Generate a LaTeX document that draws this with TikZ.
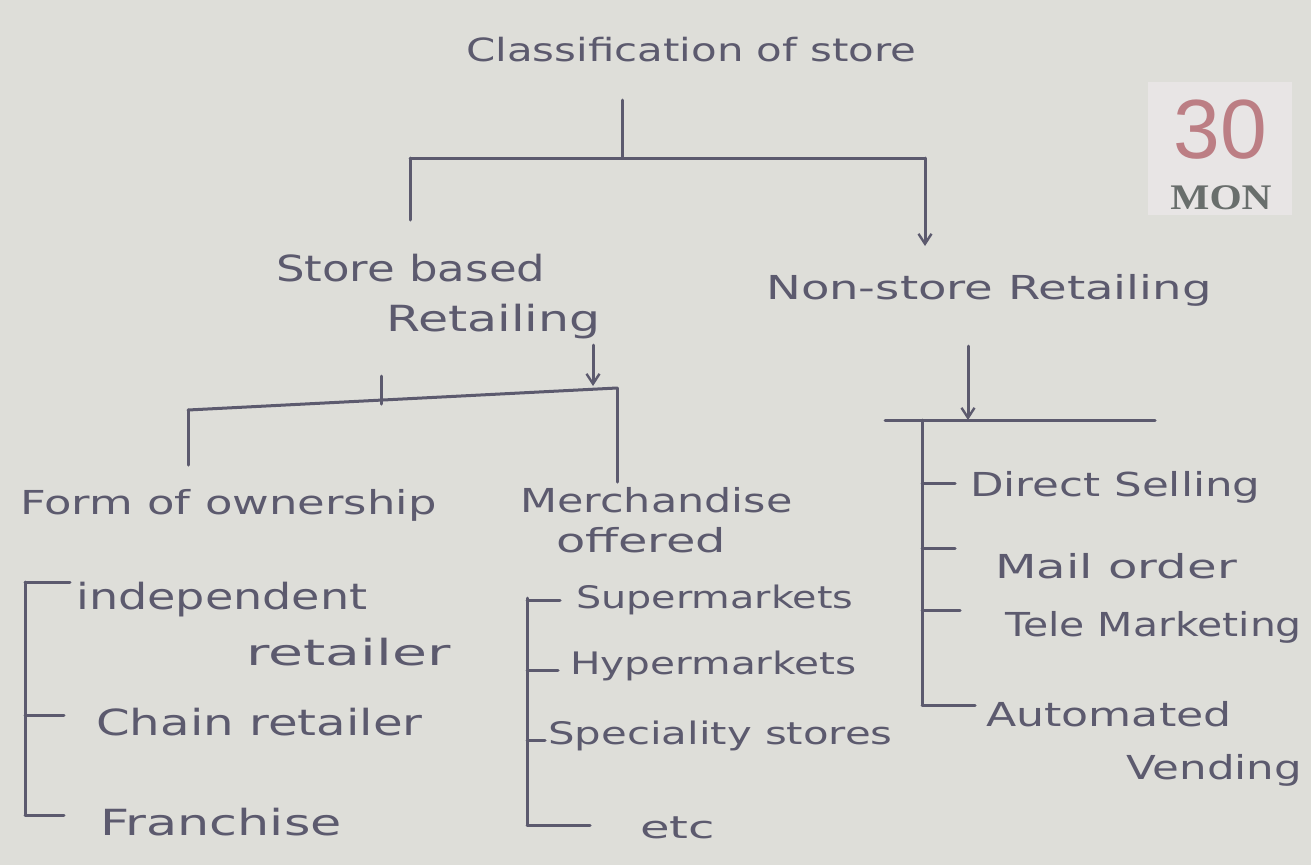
\documentclass[tikz,border=0pt]{standalone}
\usepackage{fontspec}
\setmainfont{DejaVu Sans}
\newfontfamily\datefont{Liberation Sans}
\newfontfamily\dayfont{Liberation Serif}
\usetikzlibrary{arrows.meta}
\definecolor{paper}{RGB}{222,222,217}
\definecolor{ink}{RGB}{92,90,110}
\definecolor{datered}{RGB}{188,126,132}
\definecolor{dategray}{RGB}{105,110,108}
\definecolor{datebg}{RGB}{232,229,229}
\newcommand\sx[2]{\scalebox{#1}[1]{#2}}
\tikzset{
  lbl/.style={anchor=west, inner sep=0pt, text=ink, font=\fontsize{36}{42}\selectfont},
  wire/.style={draw=ink, line width=3pt, line cap=round},
  arr/.style={wire, -{Straight Barb[length=10pt,width=13pt,line width=2.4pt]}},
}
\begin{document}
\begin{tikzpicture}[x=1pt,y=-1pt]
\fill[paper] (0,0) rectangle (1311,865);
\useasboundingbox (0,0) rectangle (1311,865);
% date stamp
\fill[datebg] (1148,82) rectangle (1292,215);
\node[inner sep=0pt, text=datered, font=\datefont\fontsize{84}{90}\selectfont] (date) at (1220,130) {30};
\node[inner sep=0pt, text=dategray, font=\dayfont\bfseries\fontsize{36}{40}\selectfont] (day) at (1221,198) {\sx{1.15}{MON}};

% text nodes
\node[lbl, font=\fontsize{32}{38}\selectfont] (title) at (466,50) {\sx{1.31}{Classification of store}};
\node[lbl] (sb1) at (276,268) {\sx{1.25}{Store based}};
\node[lbl] (sb2) at (386,322) {\sx{1.36}{Retailing}};
\node[lbl, font=\fontsize{33}{38}\selectfont] (ns) at (766,290) {\sx{1.41}{Non-store Retailing}};
\node[lbl, font=\fontsize{33}{38}\selectfont] (fo) at (20,505) {\sx{1.36}{Form of ownership}};
\node[lbl, font=\fontsize{33}{38}\selectfont] (mo1) at (520,500) {\sx{1.30}{Merchandise}};
\node[lbl, font=\fontsize{33}{38}\selectfont] (mo2) at (556,540) {\sx{1.45}{offered}};

\node[lbl] (ir1) at (76,600) {\sx{1.28}{independent}};
\node[lbl] (ir2) at (246,652) {\sx{1.58}{retailer}};
\node[lbl] (cr) at (96,722) {\sx{1.34}{Chain retailer}};
\node[lbl] (fr) at (100,822) {\sx{1.41}{Franchise}};

\node[lbl, font=\fontsize{31}{36}\selectfont] (su) at (576,600) {\sx{1.28}{Supermarkets}};
\node[lbl, font=\fontsize{31}{36}\selectfont] (hy) at (570,666) {\sx{1.31}{Hypermarkets}};
\node[lbl, font=\fontsize{31}{36}\selectfont] (sp) at (548,736) {\sx{1.35}{Speciality stores}};
\node[lbl, font=\fontsize{31}{36}\selectfont] (etc) at (640,828) {\sx{1.55}{etc}};

\node[lbl, font=\fontsize{33}{38}\selectfont] (ds) at (970,487) {\sx{1.32}{Direct Selling}};
\node[lbl, font=\fontsize{33}{38}\selectfont] (mail) at (995,566) {\sx{1.46}{Mail order}};
\node[lbl, font=\fontsize{33}{38}\selectfont] (tm) at (1005,627) {\sx{1.24}{Tele Marketing}};
\node[lbl, font=\fontsize{33}{38}\selectfont] (au1) at (986,714) {\sx{1.34}{Automated}};
\node[lbl, font=\fontsize{33}{38}\selectfont] (au2) at (1126,770) {\sx{1.32}{Vending}};

% level 1
\coordinate (t0) at (622,100);
\coordinate (b1M) at (622,158);
\coordinate (b1L) at (410,158);
\coordinate (b1R) at (925,158);
\coordinate (sbTop) at (410,220);
\coordinate (nsTop) at (925,246);
\draw[wire] (t0) -- (b1M);
\draw[wire] (b1L) -- (b1R);
\draw[wire] (b1L) -- (sbTop);
\draw[arr] (b1R) -- (nsTop);

% store based
\coordinate (sbT) at (381,376);
\coordinate (b2M) at (381,404);
\coordinate (b2L) at (188,410);
\coordinate (b2R) at (617,388);
\coordinate (sbA) at (593,345);
\coordinate (sbB) at (593,386);
\coordinate (foTop) at (188,465);
\coordinate (moTop) at (617,482);
\draw[wire] (sbT) -- (b2M);
\draw[arr] (sbA) -- (sbB);
\draw[wire] (b2L) -- (b2R);
\draw[wire] (b2L) -- (foTop);
\draw[wire] (b2R) -- (moTop);

% form of ownership list
\coordinate (l1T) at (25,582);
\coordinate (l1B) at (25,815);
\draw[wire] (l1T) -- (l1B);
\draw[wire] (l1T) -- (70,582);
\draw[wire] (25,715) -- (64,715);
\draw[wire] (l1B) -- (64,815);

% merchandise list
\coordinate (l2T) at (527,598);
\coordinate (l2B) at (527,825);
\draw[wire] (l2T) -- (l2B);
\draw[wire] (527,600) -- (560,600);
\draw[wire] (527,670) -- (558,670);
\draw[wire] (527,740) -- (545,740);
\draw[wire] (l2B) -- (590,825);

% non-store
\coordinate (nsA) at (968,346);
\coordinate (nsB) at (968,420);
\coordinate (b3L) at (885,420);
\coordinate (b3R) at (1155,420);
\coordinate (l3T) at (922,420);
\coordinate (l3B) at (922,705);
\draw[arr] (nsA) -- (nsB);
\draw[wire] (b3L) -- (b3R);
\draw[wire] (l3T) -- (l3B);
\draw[wire] (922,483) -- (955,483);
\draw[wire] (922,548) -- (955,548);
\draw[wire] (922,610) -- (960,610);
\draw[wire] (l3B) -- (975,705);
\end{tikzpicture}
\end{document}
